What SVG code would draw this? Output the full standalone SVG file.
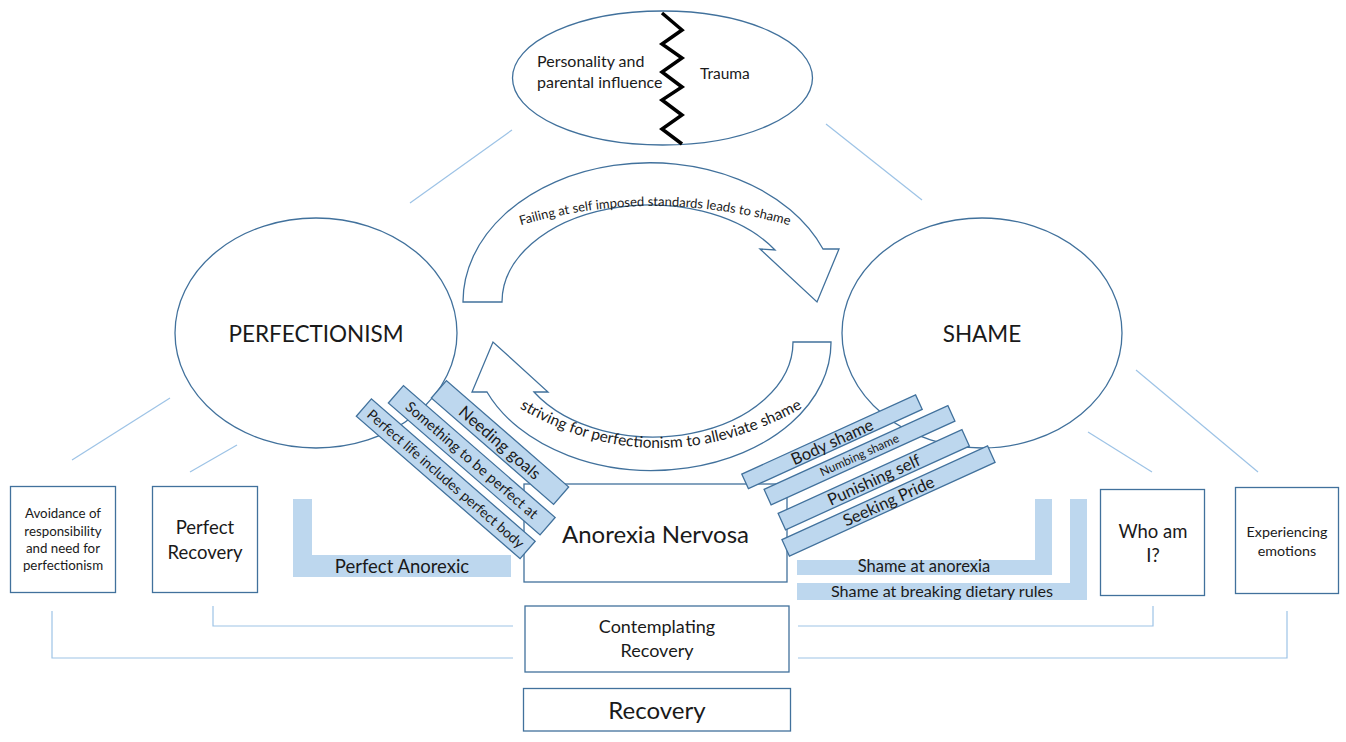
<svg xmlns="http://www.w3.org/2000/svg" width="1346" height="742" viewBox="0 0 1346 742">
<style>
text{font-family:Lato,"Liberation Sans",sans-serif;fill:#1a1a1a}
.ell{fill:#fff;stroke:#41719C;stroke-width:1.3}
.box{fill:#fff;stroke:#41719C;stroke-width:1.3}
.bar{fill:#BDD7EE;stroke:#41719C;stroke-width:1.3}
.band{fill:#BDD7EE}
.thin{fill:none;stroke:#9DC3E6;stroke-width:1.2}
.c{text-anchor:middle}
</style>
<rect width="1346" height="742" fill="#fff"/>
<g id="connectors">
<line class="thin" x1="410" y1="203" x2="512" y2="130"/>
<line class="thin" x1="826" y1="124" x2="922" y2="200"/>
<line class="thin" x1="72" y1="460" x2="170" y2="398"/>
<line class="thin" x1="190" y1="472" x2="237" y2="445"/>
<line class="thin" x1="1088" y1="432" x2="1152" y2="472"/>
<line class="thin" x1="1136" y1="370" x2="1258" y2="472"/>
<polyline class="thin" points="52,611 52,658 513,658"/>
<polyline class="thin" points="213,606 213,626 513,626"/>
<polyline class="thin" points="798,626 1153,626 1153,606"/>
<polyline class="thin" points="798,658 1287,658 1287,611"/>
</g>
<g id="origins">
<ellipse class="ell" cx="662.5" cy="78" rx="150" ry="67"/>
<polyline points="662,13 682,30 662,44 682,58 662,72 682,87 662,100 682,115 662,129 682,144" fill="none" stroke="#000" stroke-width="3.5"/>
<text x="537" y="67" font-size="16">Personality and</text>
<text x="537" y="88" font-size="16">parental influence</text>
<text x="700" y="79" font-size="15.5">Trauma</text>
</g>
<g id="perfectionism">
<ellipse class="ell" cx="316" cy="333" rx="141" ry="115"/>
<text class="c" x="316" y="342" font-size="22.5">PERFECTIONISM</text>
</g>
<g id="shame">
<ellipse class="ell" cx="982" cy="333" rx="140" ry="115"/>
<text class="c" x="982" y="342" font-size="22.5">SHAME</text>
</g>
<defs>
<path id="topArc" d="M 512,228 Q 652,184 798,228"/>
<path id="botArc" d="M 516,406 Q 656,490 806,406"/>
</defs>
<g id="arrow-failing">
<path class="ell" d="M 463,302 A 187,139 0 0 1 823,249 L 839,249 L 817,302 L 760,249 L 775,250 A 148,97 0 0 0 502,302 Z"/>
<text font-size="13"><textPath href="#topArc" startOffset="50%" text-anchor="middle">Failing at self imposed standards leads to shame</textPath></text>
</g>
<g id="arrow-striving">
<path class="ell" d="M 831,342 A 179,128 0 0 1 487,392 L 472,392 L 493,342 L 548,392 L 534,392 A 140,95 0 0 0 793,342 Z"/>
<text font-size="15.5"><textPath href="#botArc" startOffset="50%" text-anchor="middle">striving for perfectionism to alleviate shame</textPath></text>
</g>
<g id="anorexia">
<rect class="box" x="524" y="484" width="263" height="98"/>
<text class="c" x="655.5" y="543" font-size="24">Anorexia Nervosa</text>
</g>
<g id="perfect-bars">
<g transform="translate(500,442.5) rotate(41)"><rect class="bar" x="-81" y="-11.5" width="162" height="23"/><text class="c" x="0" y="6" font-size="16.5">Needing goals</text></g>
<g transform="translate(471.75,460.25) rotate(41)"><rect class="bar" x="-100.5" y="-11.5" width="201" height="23"/><text class="c" x="0" y="5" font-size="14.5">Something to be perfect at</text></g>
<g transform="translate(445.75,478.75) rotate(41)"><rect class="bar" x="-108.5" y="-11.5" width="217" height="23"/><text class="c" x="0" y="5" font-size="14">Perfect life includes perfect body</text></g>
</g>
<g id="shame-bars">
<g transform="translate(832,441.75) rotate(-24.5)"><rect class="bar" x="-95.5" y="-8" width="191" height="16"/><text class="c" x="0" y="6" font-size="16.5">Body shame</text></g>
<g transform="translate(859.5,455.25) rotate(-24.5)"><rect class="bar" x="-101" y="-8.5" width="202" height="17"/><text class="c" x="0" y="4" font-size="12">Numbing shame</text></g>
<g transform="translate(873.75,479.75) rotate(-24.5)"><rect class="bar" x="-101" y="-9" width="202" height="18"/><text class="c" x="0" y="6" font-size="16.5">Punishing self</text></g>
<g transform="translate(888.5,501) rotate(-24.5)"><rect class="bar" x="-113" y="-9" width="226" height="18"/><text class="c" x="0" y="6" font-size="16.5">Seeking Pride</text></g>
</g>
<g id="perfect-anorexic">
<path class="band" d="M 293,499 H 312 V 555 H 511 V 577 H 293 Z"/>
<text class="c" x="402" y="573" font-size="18.5">Perfect Anorexic</text>
</g>
<g id="shame-anorexia">
<path class="band" d="M 797,560 H 1035 V 499 H 1052 V 575 H 797 Z"/>
<text class="c" x="924" y="572" font-size="16.5">Shame at anorexia</text>
</g>
<g id="shame-dietary">
<path class="band" d="M 797,583 H 1070 V 499 H 1087 V 600 H 797 Z"/>
<text class="c" x="942" y="597" font-size="16.2">Shame at breaking dietary rules</text>
</g>
<g id="avoidance">
<rect class="box" x="10.5" y="486.5" width="105" height="106"/>
<text class="c" x="63" y="518" font-size="13.3">Avoidance of</text>
<text class="c" x="63" y="536" font-size="13.3">responsibility</text>
<text class="c" x="63" y="553" font-size="13.3">and need for</text>
<text class="c" x="63" y="570" font-size="13.3">perfectionism</text>
</g>
<g id="perfect-recovery">
<rect class="box" x="152.5" y="486.5" width="105" height="106"/>
<text class="c" x="205" y="534" font-size="18.5">Perfect</text>
<text class="c" x="205" y="559" font-size="18.5">Recovery</text>
</g>
<g id="who-am-i">
<rect class="box" x="1100.5" y="489.5" width="104" height="106"/>
<text class="c" x="1153" y="538" font-size="18.5">Who am</text>
<text class="c" x="1153" y="562" font-size="18.5">I?</text>
</g>
<g id="experiencing">
<rect class="box" x="1235.5" y="487.5" width="103" height="106"/>
<text class="c" x="1287" y="537" font-size="14.3">Experiencing</text>
<text class="c" x="1287" y="556" font-size="14.3">emotions</text>
</g>
<g id="contemplating">
<rect class="box" x="525" y="606" width="264" height="66"/>
<text class="c" x="657" y="633" font-size="18">Contemplating</text>
<text class="c" x="657" y="657" font-size="18">Recovery</text>
</g>
<g id="recovery">
<rect class="box" x="523.5" y="688.5" width="267" height="42.5"/>
<text class="c" x="657" y="719" font-size="24">Recovery</text>
</g>
</svg>
